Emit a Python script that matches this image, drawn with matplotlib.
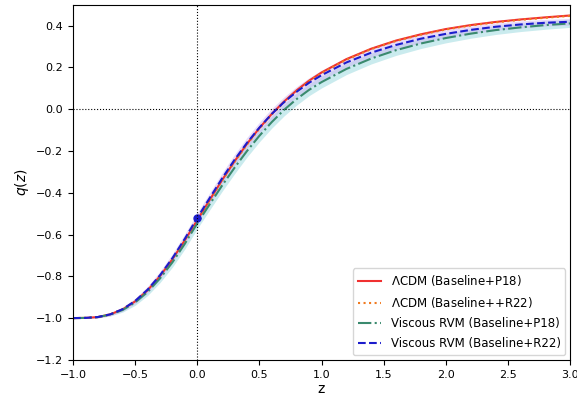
import numpy as np
import matplotlib
matplotlib.use("Agg")
import matplotlib.pyplot as plt

# redshift grid
z = [-1.0, -0.9, -0.8, -0.7, -0.6, -0.5, -0.4, -0.3, -0.2, -0.1, 0.0,
     0.1, 0.2, 0.3, 0.4, 0.5, 0.6, 0.7, 0.8, 0.9, 1.0,
     1.2, 1.4, 1.6, 1.8, 2.0, 2.2, 2.4, 2.6, 2.8, 3.0]

q_lcdm_p18 = [-1.000, -0.999, -0.995, -0.982, -0.958, -0.920, -0.867, -0.799, -0.718, -0.627, -0.531,
              -0.434, -0.339, -0.249, -0.166, -0.090, -0.022, 0.038, 0.091, 0.137, 0.176,
              0.240, 0.290, 0.329, 0.359, 0.384, 0.403, 0.418, 0.430, 0.440, 0.449]
q_lcdm_r22 = [-1.000, -0.999, -0.995, -0.982, -0.958, -0.921, -0.869, -0.801, -0.721, -0.630, -0.534,
              -0.437, -0.342, -0.252, -0.169, -0.093, -0.025, 0.035, 0.088, 0.134, 0.173,
              0.237, 0.288, 0.327, 0.357, 0.382, 0.401, 0.416, 0.428, 0.438, 0.447]
q_rvm_p18 = [-1.000, -0.999, -0.995, -0.983, -0.961, -0.925, -0.875, -0.810, -0.733, -0.644, -0.546,
             -0.455, -0.365, -0.280, -0.200, -0.127, -0.061, -0.002, 0.049, 0.093, 0.130,
             0.193, 0.243, 0.283, 0.315, 0.341, 0.362, 0.379, 0.392, 0.403, 0.411]
q_rvm_r22 = [-1.000, -0.999, -0.995, -0.982, -0.957, -0.918, -0.864, -0.795, -0.713, -0.620, -0.520,
             -0.425, -0.331, -0.242, -0.161, -0.088, -0.022, 0.035, 0.084, 0.127, 0.163,
             0.224, 0.271, 0.308, 0.338, 0.361, 0.380, 0.395, 0.406, 0.414, 0.419]
err_rvm_p18 = [0.000, 0.002, 0.004, 0.007, 0.010, 0.014, 0.017, 0.020, 0.023, 0.025, 0.026,
               0.027, 0.028, 0.029, 0.029, 0.029, 0.029, 0.029, 0.029, 0.028, 0.028,
               0.027, 0.026, 0.025, 0.024, 0.023, 0.022, 0.021, 0.020, 0.020, 0.019]
err_rvm_r22 = [0.000, 0.002, 0.004, 0.007, 0.010, 0.013, 0.016, 0.019, 0.021, 0.023, 0.024,
               0.025, 0.026, 0.026, 0.026, 0.026, 0.026, 0.025, 0.025, 0.024, 0.024,
               0.023, 0.022, 0.021, 0.020, 0.019, 0.018, 0.017, 0.017, 0.016, 0.016]

z0_point = 0.0
q0_point = -0.52

z = np.array(z)
fig = plt.figure(figsize=(5.77, 4.03), dpi=100)
ax = fig.add_axes([0.1265, 0.107, 0.8615, 0.881])

p18 = np.array(q_rvm_p18)
r22 = np.array(q_rvm_r22)
ax.fill_between(z, p18 - np.array(err_rvm_p18), p18 + np.array(err_rvm_p18),
                color="#9fdbe0", alpha=0.55, lw=0)
ax.fill_between(z, r22 - np.array(err_rvm_r22), r22 + np.array(err_rvm_r22),
                color="#cbb0f2", alpha=0.45, lw=0)

ax.plot(z, q_lcdm_p18, "-", color="#f03030", lw=1.5, label=r"$\Lambda$CDM (Baseline+P18)")
ax.plot(z, q_lcdm_r22, ":", color="#f07a20", lw=1.5, label=r"$\Lambda$CDM (Baseline++R22)")
ax.plot(z, q_rvm_p18, "-.", color="#3a8a6e", lw=1.5, label="Viscous RVM (Baseline+P18)")
ax.plot(z, q_rvm_r22, "--", color="#1c1ccc", lw=1.5, label="Viscous RVM (Baseline+R22)")
ax.plot(z0_point, q0_point, "o", color="#1c1ccc", ms=5)

ax.axhline(0, color="black", ls=":", lw=0.8)
ax.axvline(0, color="black", ls=":", lw=0.8)

ax.set_xlim(-1, 3)
ax.set_ylim(-1.2, 0.5)
ax.set_yticks(np.arange(-1.2, 0.41, 0.2))
ax.tick_params(labelsize=8)
ax.set_xlabel("z", fontsize=10, labelpad=2)
ax.set_ylabel("$q(z)$", fontsize=10)
ax.legend(loc="lower right", fontsize=8.5, labelspacing=0.6, borderaxespad=0.4)
fig.savefig("out.png", dpi=100)
